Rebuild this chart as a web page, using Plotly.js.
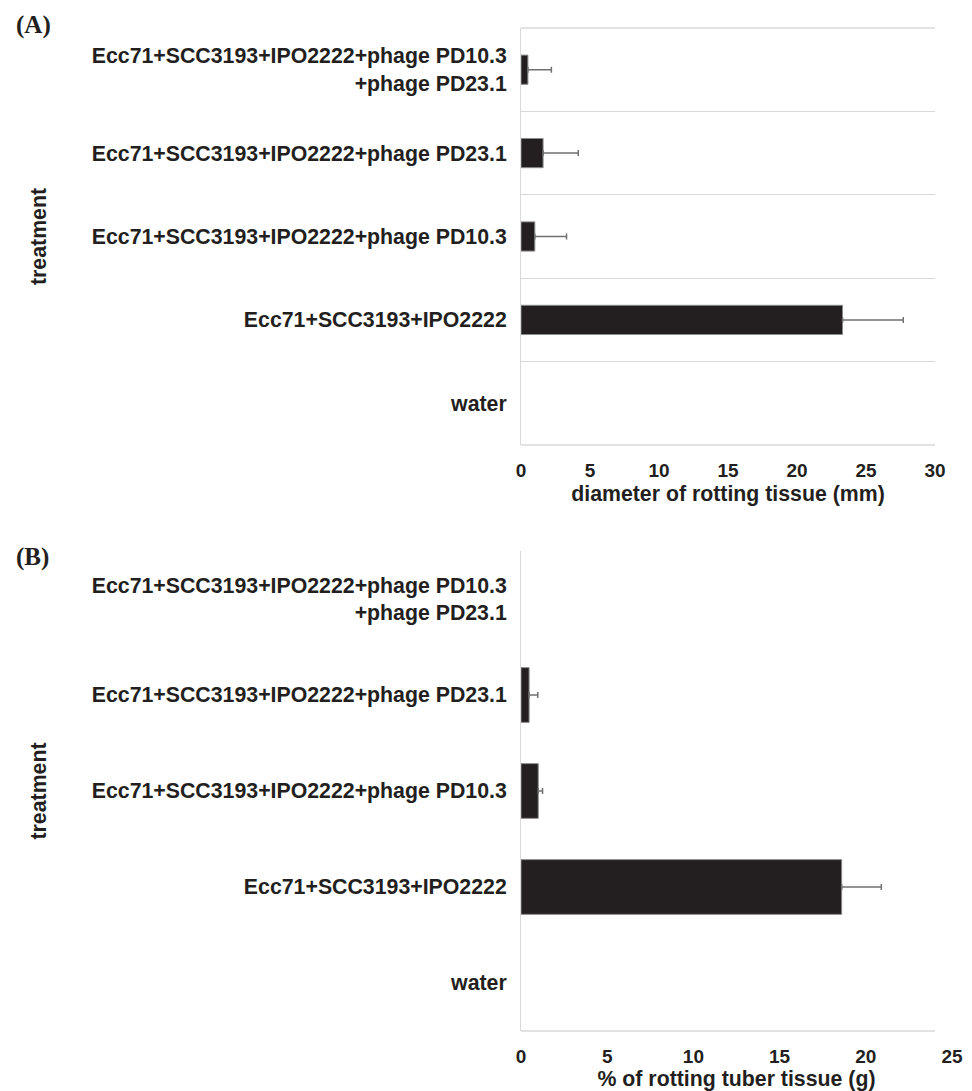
<!DOCTYPE html>
<html>
<head>
<meta charset="utf-8">
<script src="https://cdn.plot.ly/plotly-3.0.1.min.js"></script>
<style>
  html, body { margin: 0; padding: 0; background: #ffffff; }
  #chart { width: 972px; height: 1091px; }
</style>
</head>
<body>
<div id="chart"></div>
<script>
// ---- data (bottom category first) ----
const categories = [
  "water",
  "Ecc71+SCC3193+IPO2222",
  "Ecc71+SCC3193+IPO2222+phage PD10.3",
  "Ecc71+SCC3193+IPO2222+phage PD23.1",
  "Ecc71+SCC3193+IPO2222+phage PD10.3<br>+phage PD23.1"
];
const diameterMeans = [0, 23.3, 1.0, 1.6, 0.5];
const diameterErrors = [NaN, 4.4, 2.3, 2.55, 1.7];
const tissueMeans = [0, 18.6, 1.0, 0.47, 0];
const tissueErrors = [NaN, 2.3, 0.25, 0.5, NaN];
const ticksA = [0, 5, 10, 15, 20, 25, 30];
const ticksB = [0, 5, 10, 15, 20, 25];
const titleA = "diameter of rotting tissue (mm)";
const titleB = "% of rotting tuber tissue (g)";
const titleY = "treatment";

// ---- styling ----
const ink = "#231f20";
const grid = "#d9d9d9";
const sans = "Liberation Sans, Arial, sans-serif";
const labelFont = {family: sans, size: 21.3, color: ink, weight: "bold"};
const tickFont = {family: sans, size: 19, color: ink, weight: "bold"};

function errMinus(arr) { return arr.map(e => (isNaN(e) ? NaN : 0)); }
function outlineWidths(vals) { return vals.map(v => (v > 0 ? 1 : 0)); }

const traceA = {
  type: "bar", orientation: "h",
  x: diameterMeans, y: categories,
  xaxis: "x", yaxis: "y",
  width: 0.35,
  marker: {color: ink, line: {color: "#8a8a8a", width: outlineWidths(diameterMeans)}},
  error_x: {type: "data", symmetric: false, array: diameterErrors,
            arrayminus: errMinus(diameterErrors),
            color: "#707070", thickness: 1.5, width: 3},
  hoverinfo: "x+y", showlegend: false
};
const traceB = {
  type: "bar", orientation: "h",
  x: tissueMeans, y: categories,
  xaxis: "x2", yaxis: "y2",
  width: 0.57,
  marker: {color: ink, line: {color: "#8a8a8a", width: outlineWidths(tissueMeans)}},
  error_x: {type: "data", symmetric: false, array: tissueErrors,
            arrayminus: errMinus(tissueErrors),
            color: "#707070", thickness: 1.5, width: 3},
  hoverinfo: "x+y", showlegend: false
};

const H = 1091;
const yA = [1 - 445 / H, 1 - 28 / H];
const yB = [1 - 1031 / H, 1 - 551 / H];
const xAend = 414 / 431;

const layout = {
  width: 972, height: 1091,
  margin: {l: 521, r: 20, t: 0, b: 0},
  paper_bgcolor: "#ffffff", plot_bgcolor: "#ffffff",
  bargap: 0,
  showlegend: false,
  xaxis: {
    domain: [0, xAend], anchor: "y",
    range: [0, 30], tickvals: ticksA, ticktext: ticksA.map(String),
    showgrid: false, zeroline: false, showline: false, ticks: "",
    tickfont: tickFont, ticklabelstandoff: 12,
    title: {text: titleA, font: labelFont, standoff: 6},
    automargin: false, fixedrange: true
  },
  yaxis: {
    domain: yA, anchor: "x", type: "category",
    categoryorder: "array", categoryarray: categories,
    range: [-0.5, 4.5], tickson: "boundaries",
    showgrid: true, gridcolor: grid, gridwidth: 1,
    showline: true, linecolor: grid, linewidth: 1,
    zeroline: false, ticks: "",
    tickfont: labelFont, ticklabelstandoff: 9,
    title: {text: titleY, font: labelFont, standoff: 39},
    automargin: false, fixedrange: true
  },
  xaxis2: {
    domain: [0, 1], anchor: "y2",
    range: [0, 25], tickvals: ticksB, ticktext: ticksB.map(String),
    showgrid: false, zeroline: false, showline: false, ticks: "",
    tickfont: tickFont, ticklabelstandoff: 12,
    title: {text: titleB, font: labelFont, standoff: 6},
    automargin: false, fixedrange: true
  },
  yaxis2: {
    domain: yB, anchor: "x2", type: "category",
    categoryorder: "array", categoryarray: categories,
    range: [-0.5, 4.5],
    showgrid: false,
    showline: true, linecolor: grid, linewidth: 1,
    zeroline: false, ticks: "",
    tickfont: labelFont, ticklabelstandoff: 9,
    title: {text: titleY, font: labelFont, standoff: 39},
    automargin: false, fixedrange: true
  },
  shapes: [
    {type: "line", xref: "paper", yref: "paper", x0: 0, x1: xAend, y0: yA[1], y1: yA[1],
     line: {color: grid, width: 1.5}, layer: "below"},
    {type: "line", xref: "paper", yref: "paper", x0: 0, x1: xAend, y0: yA[0], y1: yA[0],
     line: {color: grid, width: 1.5}, layer: "below"},
    {type: "line", xref: "paper", yref: "paper", x0: 0, x1: xAend, y0: yB[0], y1: yB[0],
     line: {color: grid, width: 1.5}, layer: "below"}
  ],
  annotations: [
    {text: "(A)", xref: "paper", yref: "paper", x: (14 - 521) / 431, y: 1 - 25 / H,
     xanchor: "left", yanchor: "middle", showarrow: false,
     font: {family: "Liberation Serif, Times New Roman, serif", size: 25, color: ink, weight: "bold"}},
    {text: "(B)", xref: "paper", yref: "paper", x: (14 - 521) / 431, y: 1 - 557 / H,
     xanchor: "left", yanchor: "middle", showarrow: false,
     font: {family: "Liberation Serif, Times New Roman, serif", size: 25, color: ink, weight: "bold"}}
  ]
};

Plotly.newPlot("chart", [traceA, traceB], layout, {displayModeBar: false, staticPlot: true});
</script>
</body>
</html>
